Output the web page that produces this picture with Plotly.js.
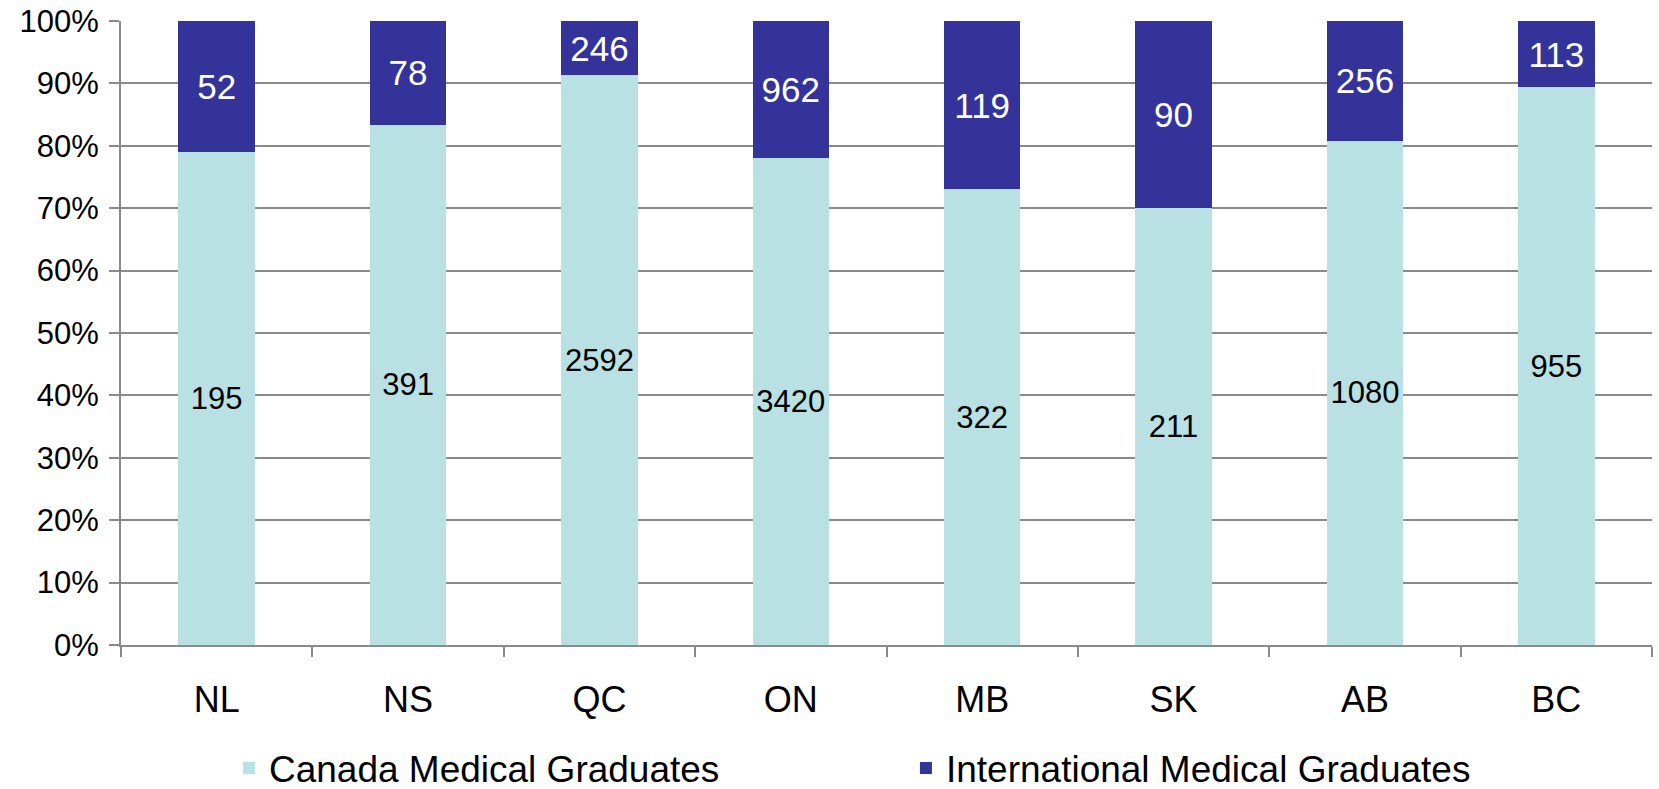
<!DOCTYPE html>
<html>
<head>
<meta charset="utf-8">
<script src="https://cdn.plot.ly/plotly-3.0.1.min.js"></script>
<style>html,body{margin:0;padding:0;background:#fff;}#chart{width:1659px;height:789px;}</style>
</head>
<body>
<div id="chart"></div>
<script>
const provinces = ["NL", "NS", "QC", "ON", "MB", "SK", "AB", "BC"];
const canadaGrads = [195, 391, 2592, 3420, 322, 211, 1080, 955];
const intlGrads = [52, 78, 246, 962, 119, 90, 256, 113];
const seriesNames = ["Canada Medical Graduates", "International Medical Graduates"];
const yTickVals = [0, 10, 20, 30, 40, 50, 60, 70, 80, 90, 100];

const FONT = "Liberation Sans, Arial, sans-serif";
const gridColor = "#8a8a8a";

const traces = [
  {
    type: "bar",
    name: seriesNames[0],
    x: provinces,
    y: canadaGrads,
    text: canadaGrads.map(String),
    textposition: "inside",
    insidetextanchor: "middle",
    textangle: 0,
    constraintext: "none",
    textfont: {family: FONT, size: 31, color: "#000000"},
    marker: {color: "#b9e0e3", line: {width: 0}},
    hoverinfo: "x+y+name"
  },
  {
    type: "bar",
    name: seriesNames[1],
    x: provinces,
    y: intlGrads,
    text: intlGrads.map(String),
    textposition: "inside",
    insidetextanchor: "middle",
    textangle: 0,
    constraintext: "none",
    textfont: {family: FONT, size: 35, color: "#ffffff"},
    marker: {color: "#333399", line: {width: 0}},
    hoverinfo: "x+y+name"
  }
];

const layout = {
  width: 1659,
  height: 789,
  margin: {l: 121, r: 7, t: 21, b: 143.5, pad: 0},
  paper_bgcolor: "#ffffff",
  plot_bgcolor: "#ffffff",
  barmode: "stack",
  barnorm: "percent",
  bargap: 0.6,
  font: {family: FONT, color: "#000000"},
  showlegend: true,
  legend: {
    orientation: "h",
    xref: "container",
    yref: "container",
    x: 0.138,
    xanchor: "left",
    y: 0.026,
    yanchor: "middle",
    font: {family: FONT, size: 37, color: "#000000"},
    entrywidth: 632,
    traceorder: "normal",
    bgcolor: "rgba(0,0,0,0)"
  },
  xaxis: {
    type: "category",
    tickson: "boundaries",
    ticks: "outside",
    ticklen: 10,
    tickwidth: 2,
    tickcolor: gridColor,
    showline: true,
    linecolor: gridColor,
    linewidth: 2,
    showgrid: false,
    zeroline: false,
    automargin: false,
    tickfont: {family: FONT, size: 36, color: "#000000"},
    ticklabelstandoff: 22
  },
  yaxis: {
    range: [0, 100],
    tickvals: yTickVals,
    ticktext: yTickVals.map(v => v + "%"),
    ticks: "outside",
    ticklen: 10,
    tickwidth: 2,
    tickcolor: gridColor,
    showline: true,
    linecolor: gridColor,
    linewidth: 2,
    showgrid: true,
    gridcolor: gridColor,
    gridwidth: 2,
    zeroline: false,
    automargin: false,
    tickfont: {family: FONT, size: 31, color: "#000000"},
    ticklabelstandoff: 4
  }
};

Plotly.newPlot("chart", traces, layout, {displayModeBar: false, staticPlot: true});
</script>
</body>
</html>
